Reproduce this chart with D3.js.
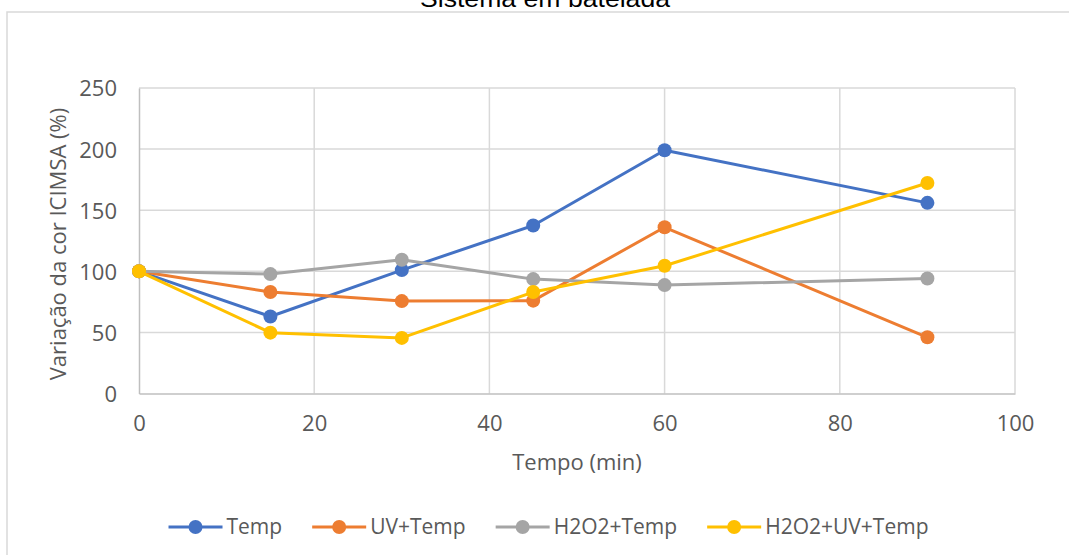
<!DOCTYPE html>
<html>
<head>
<meta charset="utf-8">
<script src="https://cdn.jsdelivr.net/npm/d3@7"></script>
<style>
  body { margin: 0; background: #fff; }
  svg { display: block; }
  .tick text { font-family: "Open Sans", sans-serif; font-size: 22px; fill: #595959; }
</style>
</head>
<body>
<svg id="chart" width="1069" height="555"></svg>
<script>
// data
var tempo = [0, 15, 30, 45, 60, 90];
var seriesNames = ["Temp", "UV+Temp", "H2O2+Temp", "H2O2+UV+Temp"];
var temp = [100, 63, 101, 137.5, 199, 156];
var uvTemp = [100, 83, 75.6, 76, 136, 46];
var h2o2Temp = [100, 97.7, 109.4, 93.6, 88.7, 94.1];
var h2o2UvTemp = [100, 49.8, 45.5, 83, 104.5, 172.3];
var xTicks = [0, 20, 40, 60, 80, 100];
var yTicks = [0, 50, 100, 150, 200, 250];
var colors = ["#4472C4", "#ED7D31", "#A5A5A5", "#FFC000"];

var svg = d3.select("#chart");
var plotLeft = 139, plotRight = 1015, plotTop = 88, plotBottom = 393.5;
var fontSize = 22;

// chart frame (cut off by the picture)
svg.append("rect")
    .attr("x", 7).attr("y", 12)
    .attr("width", 1100).attr("height", 600)
    .attr("fill", "none")
    .attr("stroke", "#d9d9d9")
    .attr("stroke-width", 1.5);

svg.append("text")
    .attr("x", 545).attr("y", 7)
    .attr("text-anchor", "middle")
    .attr("font-family", "Liberation Sans, Arial, sans-serif")
    .attr("font-size", 24)
    .attr("textLength", 250)
    .attr("lengthAdjust", "spacingAndGlyphs")
    .attr("fill", "#000")
    .text("Sistema em batelada");

var x = d3.scaleLinear().domain([0, 100]).range([plotLeft, plotRight]);
var y = d3.scaleLinear().domain([0, 250]).range([plotBottom, plotTop]);

// gridlines
svg.append("g")
    .selectAll("line")
    .data(yTicks.slice(1))
    .enter().append("line")
      .attr("x1", plotLeft).attr("x2", plotRight)
      .attr("y1", function(d) { return y(d); })
      .attr("y2", function(d) { return y(d); })
      .attr("stroke", "#d9d9d9").attr("stroke-width", 1.5);

svg.append("g")
    .selectAll("line")
    .data(xTicks.slice(1))
    .enter().append("line")
      .attr("y1", plotTop).attr("y2", plotBottom)
      .attr("x1", function(d) { return x(d); })
      .attr("x2", function(d) { return x(d); })
      .attr("stroke", "#d9d9d9").attr("stroke-width", 1.5);

// axes
var xAxis = svg.append("g")
    .attr("transform", "translate(0," + plotBottom + ")")
    .call(d3.axisBottom(x).tickValues(xTicks).tickSize(0).tickPadding(22));
xAxis.select(".domain").attr("stroke", "#bfbfbf").attr("stroke-width", 1.5);

var yAxis = svg.append("g")
    .attr("transform", "translate(" + plotLeft + ",0)")
    .call(d3.axisLeft(y).tickValues(yTicks).tickSize(0).tickPadding(22));
yAxis.select(".domain").attr("stroke", "#bfbfbf").attr("stroke-width", 1.5);
yAxis.selectAll(".tick text").attr("dy", "0.36em");

svg.append("text")
    .attr("x", 577).attr("y", 470)
    .attr("text-anchor", "middle")
    .attr("font-family", "Open Sans, sans-serif")
    .attr("font-size", fontSize)
    .attr("fill", "#595959")
    .text("Tempo (min)");

svg.append("text")
    .attr("transform", "translate(66,244) rotate(-90)")
    .attr("text-anchor", "middle")
    .attr("font-family", "Open Sans, sans-serif")
    .attr("font-size", fontSize)
    .attr("fill", "#595959")
    .text("Variação da cor ICIMSA (%)");

// series
var allSeries = [temp, uvTemp, h2o2Temp, h2o2UvTemp].map(function(vals, i) {
  return {
    name: seriesNames[i],
    color: colors[i],
    points: vals.map(function(v, j) { return { t: tempo[j], v: v }; })
  };
});

var line = d3.line()
    .x(function(d) { return x(d.t); })
    .y(function(d) { return y(d.v); });

var s = svg.selectAll(".series")
    .data(allSeries)
    .enter().append("g")
      .attr("class", "series");

s.append("path")
    .attr("d", function(d) { return line(d.points); })
    .attr("fill", "none")
    .attr("stroke", function(d) { return d.color; })
    .attr("stroke-width", 3)
    .attr("stroke-linejoin", "round");

s.selectAll("circle")
    .data(function(d) { return d.points.map(function(p) { return { p: p, c: d.color }; }); })
    .enter().append("circle")
      .attr("cx", function(d) { return x(d.p.t); })
      .attr("cy", function(d) { return y(d.p.v); })
      .attr("r", 7)
      .attr("fill", function(d) { return d.c; });

// legend, centred under the chart
var legend = svg.append("g");
var lx = 0, gap = 30;
allSeries.forEach(function(d, i) {
  var g = legend.append("g").attr("transform", "translate(" + lx + ",0)");
  g.append("line")
      .attr("x1", 0).attr("x2", 54)
      .attr("y1", 0).attr("y2", 0)
      .attr("stroke", d.color).attr("stroke-width", 3);
  g.append("circle")
      .attr("cx", 27).attr("cy", 0).attr("r", 7)
      .attr("fill", d.color);
  var t = g.append("text")
      .attr("x", 58).attr("y", 7)
      .attr("font-family", "Open Sans, sans-serif")
      .attr("font-size", 21)
      .attr("fill", "#595959")
      .text(d.name);
  lx += 58 + t.node().getComputedTextLength() + gap;
});
lx -= gap;
legend.attr("transform", "translate(" + (548.5 - lx / 2) + ",527)");
</script>
</body>
</html>
